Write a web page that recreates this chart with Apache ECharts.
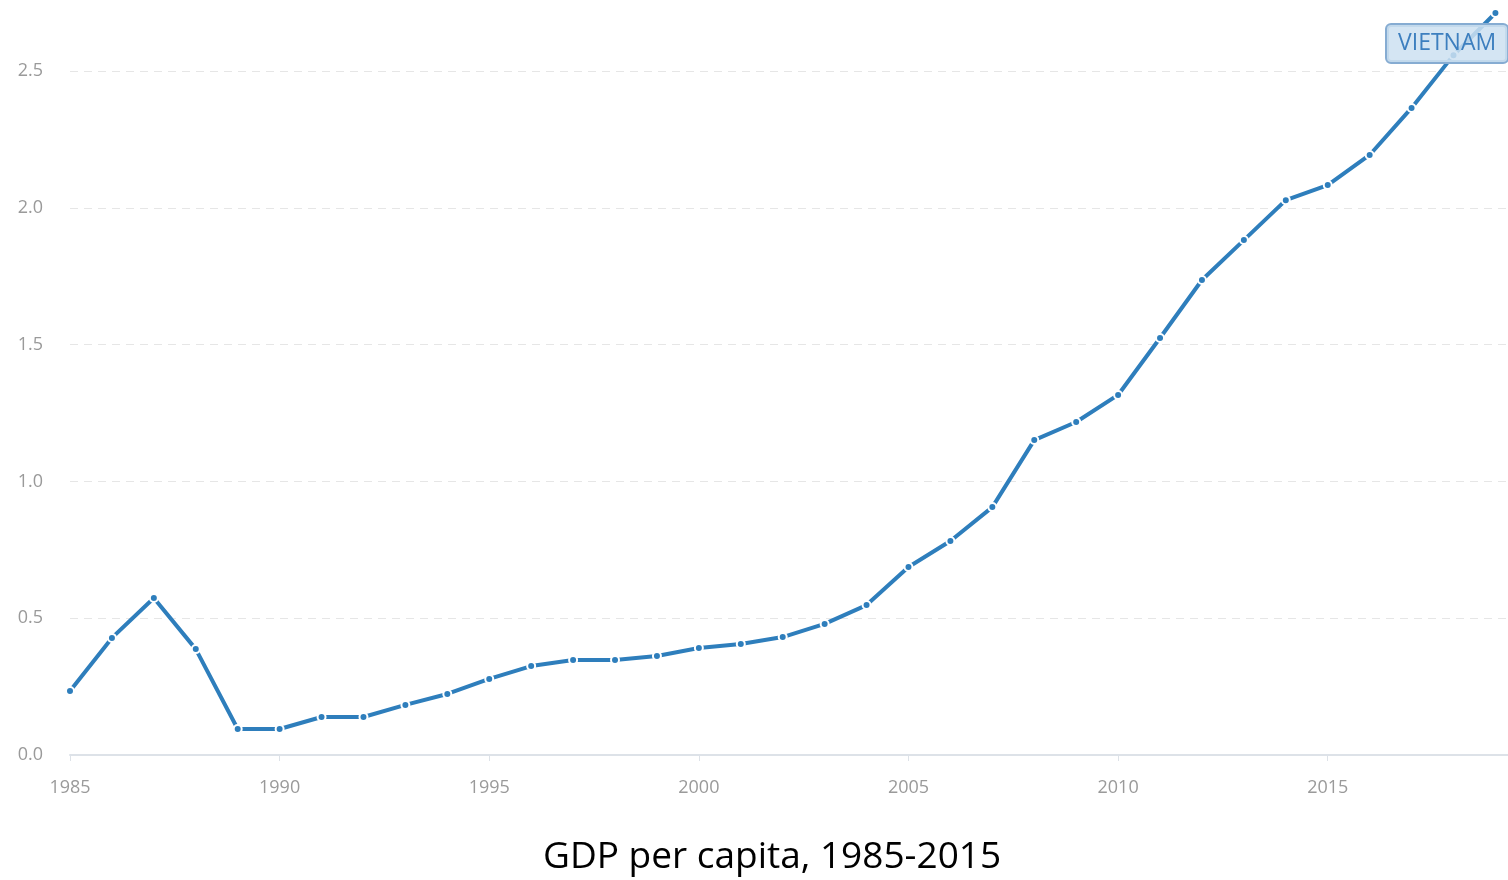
<!DOCTYPE html>
<html>
<head>
<meta charset="utf-8">
<title>GDP per capita, Vietnam</title>
<script src="https://cdn.jsdelivr.net/npm/echarts@6/dist/echarts.min.js"></script>
<style>
  html, body { margin: 0; padding: 0; background: #fff; }
  #chart { width: 1508px; height: 880px; }
</style>
</head>
<body>
<div id="chart"></div>
<script>
// years and GDP per capita values (thousand US$)
var years = [1985, 1986, 1987, 1988, 1989, 1990, 1991, 1992, 1993, 1994,
  1995, 1996, 1997, 1998, 1999, 2000, 2001, 2002, 2003, 2004,
  2005, 2006, 2007, 2008, 2009, 2010, 2011, 2012, 2013, 2014,
  2015, 2016, 2017, 2018, 2019];
var gdpValues = [0.234, 0.428, 0.574, 0.387, 0.095, 0.095, 0.139, 0.139, 0.183, 0.223,
  0.278, 0.325, 0.347, 0.347, 0.362, 0.391, 0.406, 0.431, 0.479, 0.548,
  0.687, 0.782, 0.906, 1.151, 1.217, 1.316, 1.524, 1.736, 1.882, 2.028,
  2.083, 2.193, 2.365, 2.558, 2.712];
var seriesName = 'VIETNAM';
var chartTitle = 'GDP per capita, 1985-2015';

var chart = echarts.init(document.getElementById('chart'));

var points = [];
for (var i = 0; i < years.length; i++) {
  points.push([years[i], gdpValues[i]]);
}

var option = {
  animation: false,
  title: {
    text: chartTitle,
    left: 538,
    top: 834,
    textStyle: {
      fontFamily: 'Open Sans',
      fontWeight: 'normal',
      fontSize: 37,
      color: '#000'
    }
  },
  grid: {
    left: 70,
    right: 0,
    top: 71,
    bottom: 125
  },
  xAxis: {
    type: 'value',
    min: 1985,
    max: 2019.3,
    interval: 5,
    axisLine: { show: true, lineStyle: { color: '#dde2e8', width: 2 } },
    axisTick: { show: true, length: 6, lineStyle: { color: '#dde2e8' } },
    splitLine: { show: false },
    axisLabel: {
      showMaxLabel: false,
      margin: 24,
      color: '#9a9a9a',
      fontFamily: 'Open Sans',
      fontSize: 18,
      formatter: function (v) { return String(v); }
    }
  },
  yAxis: {
    type: 'value',
    min: 0,
    max: 2.5,
    interval: 0.5,
    axisLine: { show: false },
    axisTick: { show: false },
    splitLine: { lineStyle: { color: '#e6e6e6', type: [8, 6] } },
    axisLabel: {
      margin: 27,
      color: '#9a9a9a',
      fontFamily: 'Open Sans',
      fontSize: 18,
      formatter: function (v) { return v.toFixed(1); }
    }
  },
  series: [
    {
      name: seriesName,
      type: 'line',
      data: points,
      clip: false,
      symbol: 'circle',
      symbolSize: 8,
      showAllSymbol: true,
      lineStyle: { color: '#2e7ebc', width: 4 },
      itemStyle: { color: '#2e7ebc', borderColor: '#fff', borderWidth: 2 }
    }
  ],
  graphic: [
    {
      type: 'text',
      left: 1385,
      top: 23,
      z: 10,
      style: {
        text: seriesName,
        font: '23px "Open Sans"',
        fill: '#3d7fbf',
        backgroundColor: 'rgba(204,224,241,0.85)',
        borderColor: '#86acd2',
        borderWidth: 2,
        borderRadius: 4,
        padding: [7, 11, 7, 11]
      }
    }
  ]
};

chart.setOption(option);
</script>
</body>
</html>
